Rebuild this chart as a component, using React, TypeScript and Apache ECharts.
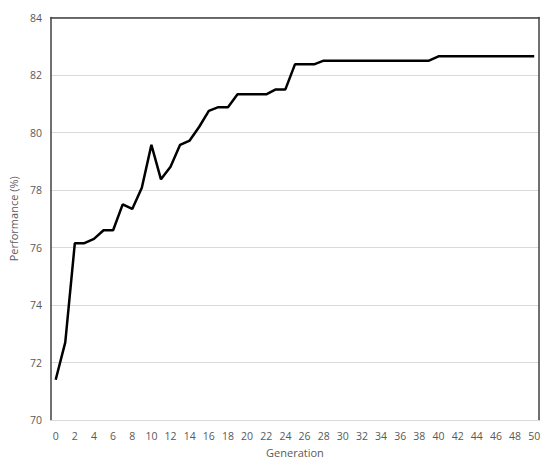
import React, { useEffect, useRef } from "react";
import * as echarts from "echarts";

const generations = Array.from({ length: 51 }, (_, i) => String(i));
const performance = [
  71.4, 72.7, 76.15, 76.15, 76.3, 76.6, 76.6, 77.5, 77.34, 78.08,
  79.57, 78.37, 78.81, 79.57, 79.72, 80.2, 80.75, 80.88, 80.88, 81.33,
  81.33, 81.33, 81.33, 81.5, 81.5, 82.37, 82.37, 82.37, 82.5, 82.5,
  82.5, 82.5, 82.5, 82.5, 82.5, 82.5, 82.5, 82.5, 82.5, 82.5,
  82.65, 82.65, 82.65, 82.65, 82.65, 82.65, 82.65, 82.65, 82.65, 82.65,
  82.65,
];
const yMin = 70;
const yMax = 84;
const yStep = 2;

const FONT = "'Open Sans', 'Liberation Sans', sans-serif";
const TEXT = "#595959";

export default function App() {
  const ref = useRef<HTMLDivElement>(null);
  useEffect(() => {
    document.body.style.margin = "0";
    if (!ref.current) return;
    const chart = echarts.init(ref.current, undefined, { renderer: "svg" });
    chart.setOption({
      animation: false,
      backgroundColor: "#ffffff",
      grid: { left: 49, right: 11, top: 17.5, bottom: 46 },
      xAxis: [
        {
          type: "category",
          data: generations,
          boundaryGap: true,
          name: "Generation",
          nameLocation: "middle",
          nameGap: 27,
          nameTextStyle: { color: TEXT, fontFamily: FONT, fontSize: 11 },
          axisLine: { show: true, lineStyle: { color: "#d9d9d9", width: 1 } },
          axisTick: { show: false },
          axisLabel: { interval: 1, color: TEXT, fontFamily: FONT, fontSize: 10.5, margin: 10 },
          splitLine: { show: false },
        },
        {
          type: "category",
          data: generations,
          position: "top",
          axisLine: { show: true, lineStyle: { color: "#404040", width: 1.5 } },
          axisTick: { show: false },
          axisLabel: { show: false },
          splitLine: { show: false },
        },
      ],
      yAxis: [
        {
          type: "value",
          min: yMin,
          max: yMax,
          interval: yStep,
          name: "Performance (%)",
          nameLocation: "middle",
          nameGap: 26,
          nameTextStyle: { color: TEXT, fontFamily: FONT, fontSize: 11 },
          axisLine: { show: true, lineStyle: { color: "#404040", width: 1.5 } },
          axisTick: { show: false },
          axisLabel: { color: TEXT, fontFamily: FONT, fontSize: 10.5, margin: 9 },
          splitLine: { show: true, lineStyle: { color: "#d9d9d9", width: 1 } },
        },
        {
          type: "value",
          min: yMin,
          max: yMax,
          interval: yStep,
          position: "right",
          axisLine: { show: true, lineStyle: { color: "#404040", width: 1.5 } },
          axisTick: { show: false },
          axisLabel: { show: false },
          splitLine: { show: false },
        },
      ],
      series: [
        {
          type: "line",
          data: performance,
          xAxisIndex: 0,
          yAxisIndex: 0,
          showSymbol: false,
          symbol: "none",
          lineStyle: { color: "#000000", width: 2.5 },
        },
      ],
    });
    return () => chart.dispose();
  }, []);
  return <div ref={ref} style={{ width: 550, height: 466 }} />;
}
